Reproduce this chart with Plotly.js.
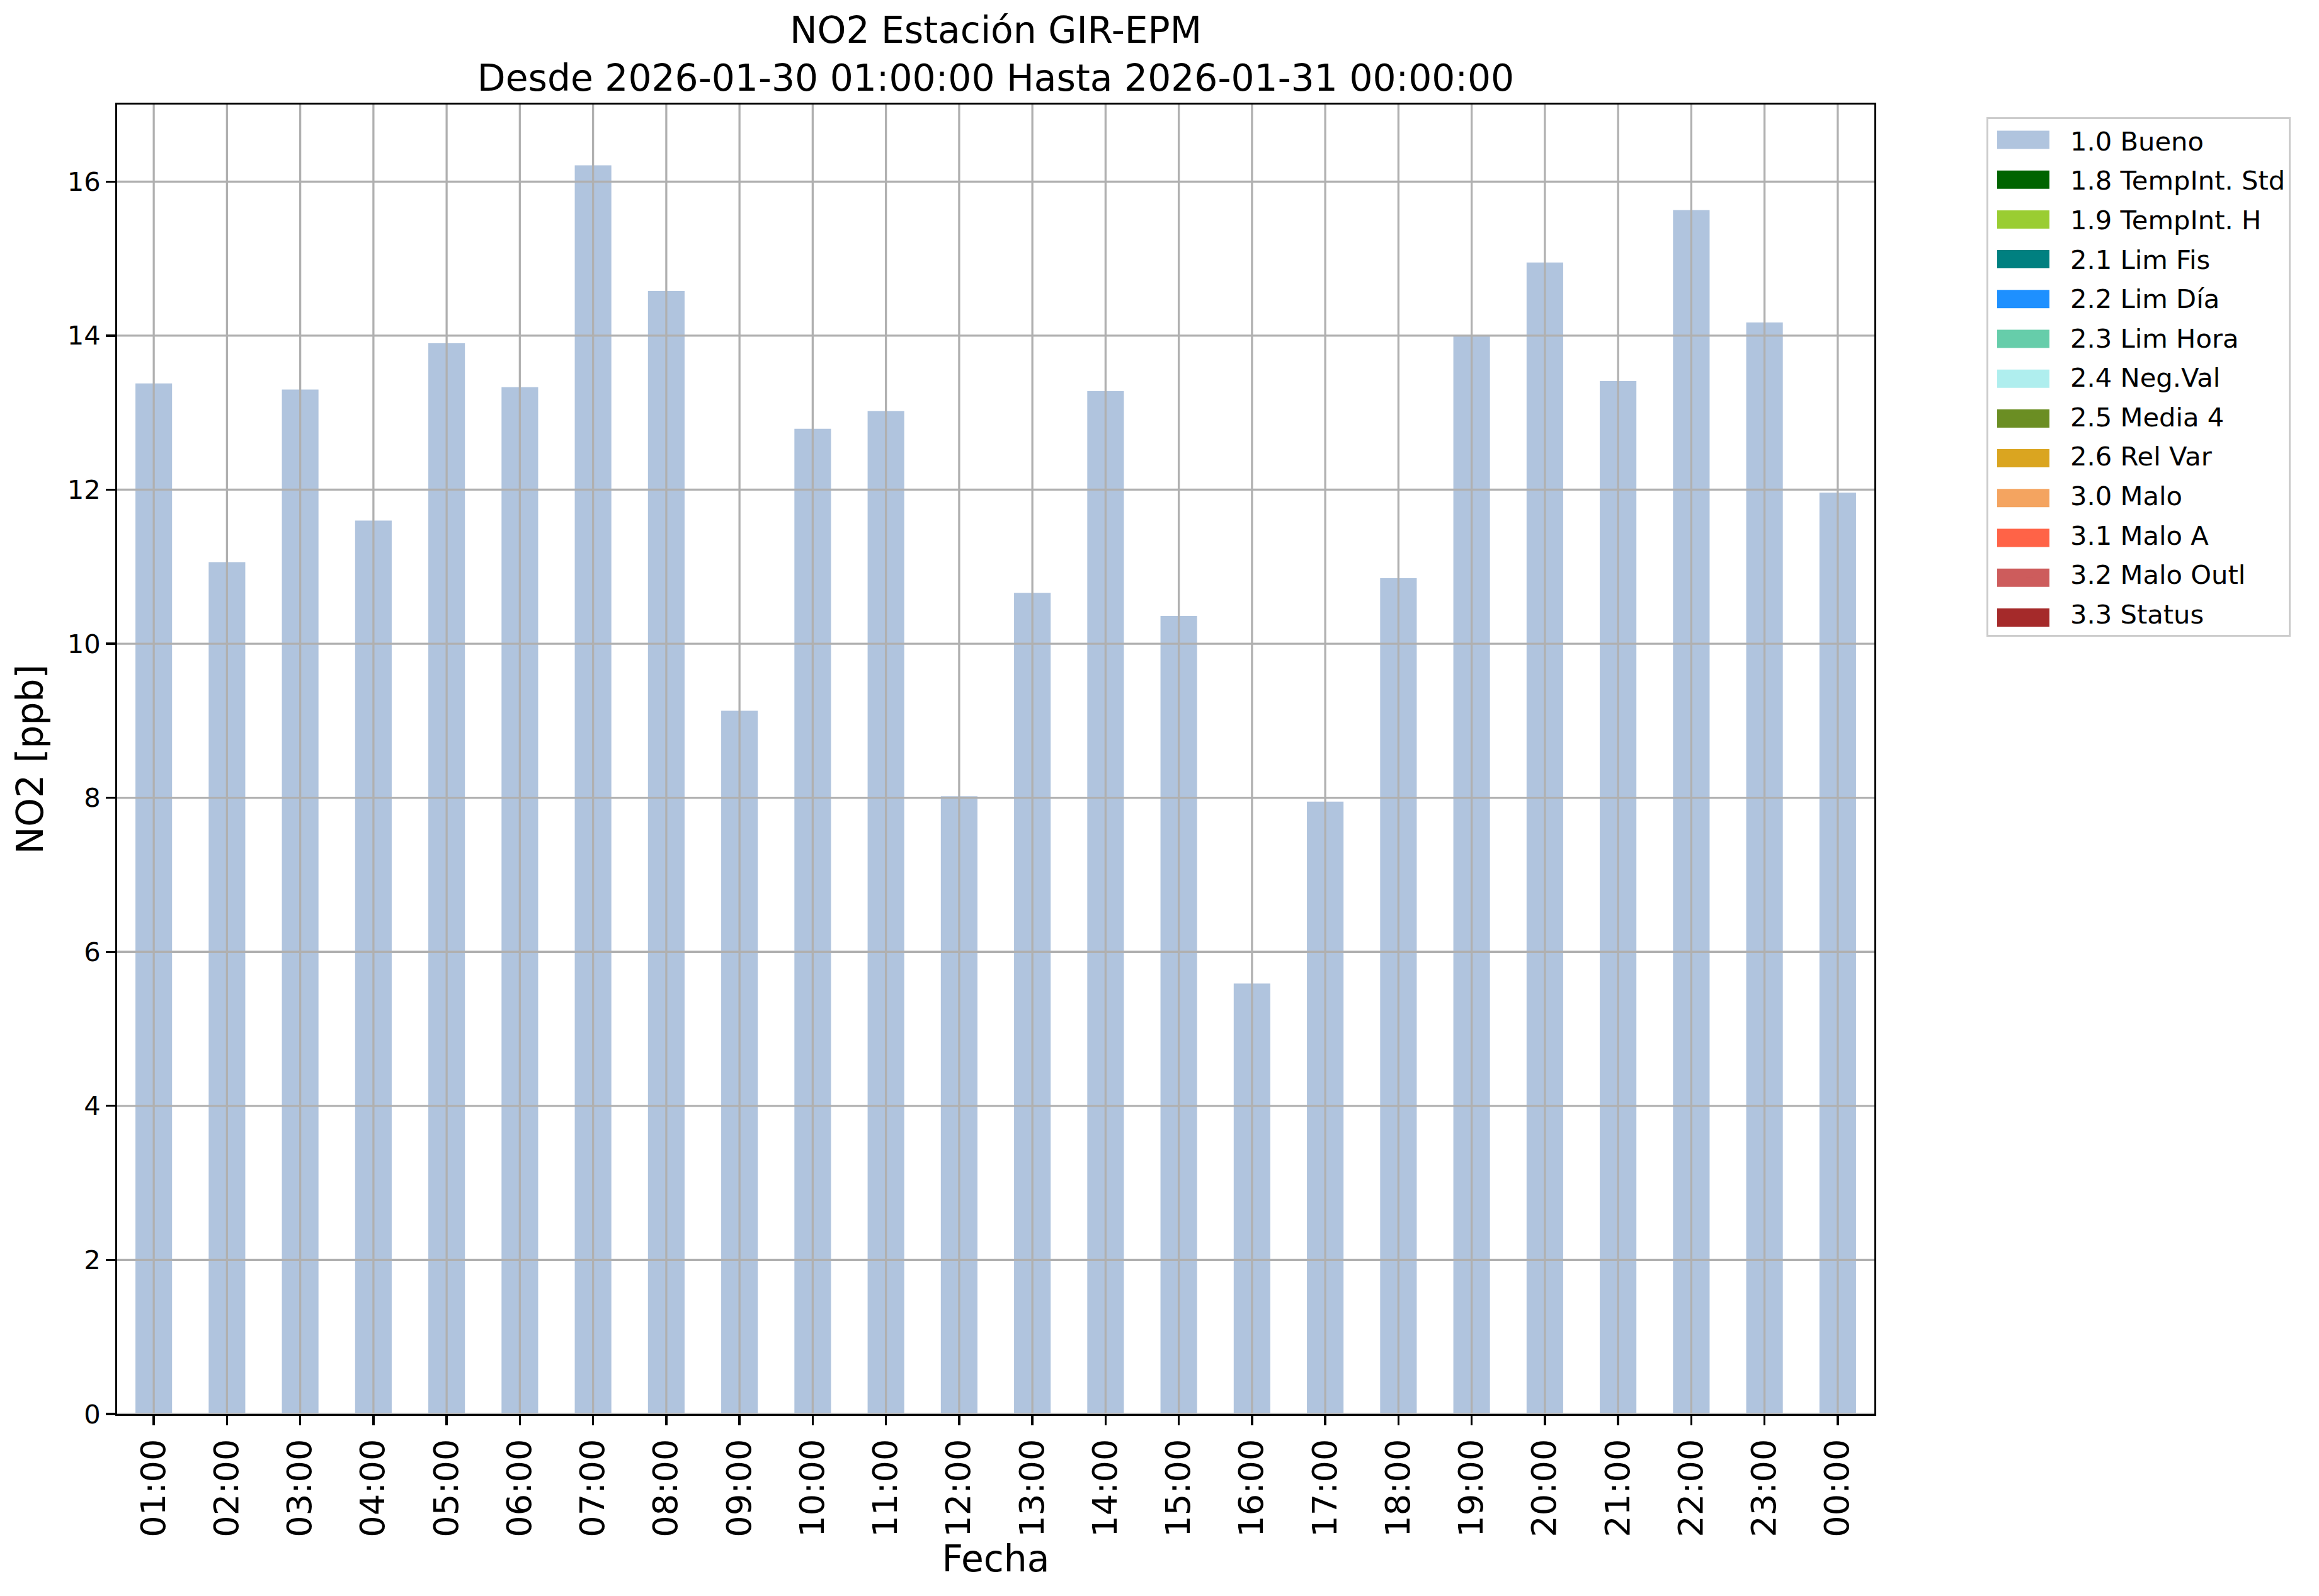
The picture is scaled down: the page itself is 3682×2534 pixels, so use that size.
<!DOCTYPE html>
<html>
<head>
<meta charset="utf-8">
<script src="https://cdn.plot.ly/plotly-3.0.1.min.js"></script>
<style>html,body{margin:0;padding:0;background:#fff;}</style>
</head>
<body>
<div id="chart" style="width:3682px;height:2534px;"></div>
<script>
// ---- data ----
const hours = ["01:00","02:00","03:00","04:00","05:00","06:00","07:00","08:00","09:00","10:00","11:00","12:00",
               "13:00","14:00","15:00","16:00","17:00","18:00","19:00","20:00","21:00","22:00","23:00","00:00"];
const no2Bueno = [13.38, 11.06, 13.30, 11.60, 13.90, 13.33, 16.21, 14.58, 9.13, 12.79, 13.02, 8.02,
                  10.66, 13.28, 10.36, 5.59, 7.95, 10.85, 14.00, 14.95, 13.41, 15.63, 14.17, 11.96];
const flagNames = ["1.0 Bueno","1.8 TempInt. Std","1.9 TempInt. H","2.1 Lim Fis","2.2 Lim Día","2.3 Lim Hora",
                   "2.4 Neg.Val","2.5 Media 4","2.6 Rel Var","3.0 Malo","3.1 Malo A","3.2 Malo Outl","3.3 Status"];
const flagColors = ["#b0c4de","#006400","#9acd32","#008080","#1e90ff","#66cdaa",
                    "#afeeee","#6b8e23","#daa520","#f4a460","#ff6347","#cd5c5c","#a52a2a"];
const yTicks = [0, 2, 4, 6, 8, 10, 12, 14, 16];
const titleText = "NO2 Estación GIR-EPM<br>Desde 2026-01-30 01:00:00 Hasta 2026-01-31 00:00:00";

// ---- geometry (pixels) ----
const W = 3682, H = 2534;
const L = 186, R = 2976, T = 166, B = 2245;
const pw = R - L, ph = B - T;
const FONT = "DejaVu Sans, sans-serif";
const LW = 3.3;
const px2x = p => (p - L) / pw;
const py2y = p => (B - p) / ph;

// traces: measured series + empty (no data) flag series for legend
const noData = hours.map(() => null);
const traces = flagNames.map((name, i) => ({
  type: "bar",
  x: hours,
  y: i === 0 ? no2Bueno : noData,
  name: name,
  legendgroup: "g" + i,
  width: 0.5,
  marker: {color: flagColors[i], line: {width: 0}},
  hoverinfo: "x+y"
}));

// grid lines drawn above bars (as in the reference)
const shapes = [];
yTicks.forEach(v => shapes.push({type: "line", layer: "above", xref: "paper", yref: "y",
  x0: 0, x1: 1, y0: v, y1: v, line: {color: "#b0b0b0", width: LW}}));
hours.forEach(h => shapes.push({type: "line", layer: "above", xref: "x", yref: "paper",
  x0: h, x1: h, y0: 0, y1: 1, line: {color: "#b0b0b0", width: LW}}));

// legend swatches (wide patches like the reference legend)
const legTop = 186, legFont = 41.67;
const sw0 = 3171, sw1 = 3254, swH = 29, firstC = 222, step = 63.2;
flagNames.forEach((n, i) => {
  const c = firstC + step * i;
  shapes.push({type: "rect", layer: "above", xref: "paper", yref: "paper",
    x0: px2x(sw0), x1: px2x(sw1), y0: py2y(c + swH / 2), y1: py2y(c - swH / 2),
    fillcolor: flagColors[i], line: {width: 0}});
});

const layout = {
  width: W, height: H,
  margin: {l: L, r: W - R, t: T, b: H - B, pad: 0},
  paper_bgcolor: "#ffffff", plot_bgcolor: "#ffffff",
  font: {family: FONT, color: "#000000"},
  barmode: "overlay",
  bargap: 0.5,
  title: {
    text: titleText,
    font: {family: FONT, size: 58.3, color: "#000000"},
    xref: "paper", x: 0.5, xanchor: "center",
    yref: "container", y: 1 - 68 / H, yanchor: "top"
  },
  xaxis: {
    type: "category",
    range: [-0.5, hours.length - 0.5],
    showgrid: false, zeroline: false,
    showline: true, mirror: true, linecolor: "#000000", linewidth: LW,
    ticks: "outside", ticklen: 14.6, tickwidth: LW, tickcolor: "#000000",
    tickangle: -90,
    tickfont: {family: FONT, size: 54.2, color: "#000000"},
    title: {text: "Fecha", font: {family: FONT, size: 58.3, color: "#000000"}, standoff: 14}
  },
  yaxis: {
    range: [0, 17],
    tickvals: yTicks, ticktext: yTicks.map(String),
    showgrid: false, zeroline: false,
    showline: true, mirror: true, linecolor: "#000000", linewidth: LW,
    ticks: "outside", ticklen: 14.6, tickwidth: LW, tickcolor: "#000000",
    tickfont: {family: FONT, size: legFont, color: "#000000"},
    title: {text: "NO2 [ppb]", font: {family: FONT, size: 58.3, color: "#000000"}, standoff: 20}
  },
  showlegend: true,
  legend: {
    x: px2x(3154), y: py2y(legTop), xanchor: "left", yanchor: "top",
    xref: "paper", yref: "paper",
    bgcolor: "rgba(0,0,0,0)", bordercolor: "#cccccc", borderwidth: 3,
    font: {family: FONT, size: legFont, color: "#000000"},
    itemwidth: 120,
    traceorder: "grouped", tracegroupgap: 5.4,
    itemclick: false, itemdoubleclick: false
  },
  shapes: shapes
};

Plotly.newPlot("chart", traces, layout, {staticPlot: true, displayModeBar: false});
</script>
</body>
</html>
